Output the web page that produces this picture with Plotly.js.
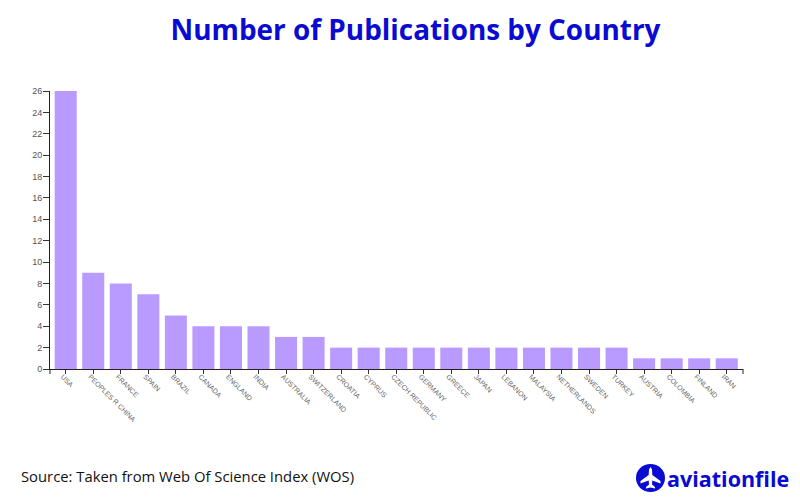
<!DOCTYPE html>
<html>
<head>
<meta charset="utf-8">
<script src="https://cdn.plot.ly/plotly-3.0.1.min.js"></script>
<style>html,body{margin:0;padding:0;background:#fff}#chart{width:800px;height:498px}</style>
</head>
<body>
<div id="chart"></div>
<script>
var countries = ["USA","PEOPLES R CHINA","FRANCE","SPAIN","BRAZIL","CANADA","ENGLAND","INDIA","AUSTRALIA","SWITZERLAND","CROATIA","CYPRUS","CZECH REPUBLIC","GERMANY","GREECE","JAPAN","LEBANON","MALAYSIA","NETHERLANDS","SWEDEN","TURKEY","AUSTRIA","COLOMBIA","FINLAND","IRAN"];
var publications = [26,9,8,7,5,4,4,4,3,3,2,2,2,2,2,2,2,2,2,2,2,1,1,1,1];
var titleText = "Number of Publications by Country";
var sourceText = "Source: Taken from Web Of Science Index (WOS)";
var logoText = "aviationfile";
var W = 800, H = 498, L = 50, R = 743, T = 91, B = 369;
function px(x){return (x-L)/(R-L);}
function py(y){return (B-y)/(B-T);}
// logo plane outline, half the icon, relative to the logo centre in pixels
var planeHalf = [[0,-11],[1.5,-8.5],[1.8,-3],[10,3],[10,5.5],[1.8,2.5],[1.5,6.5],[4.5,9],[4.5,10.5],[0,9.5]];
var planePts = planeHalf.concat(planeHalf.slice(1,-1).reverse().map(function(p){return [-p[0],p[1]];}));
var planePath = planePts.map(function(p,i){return (i?"L":"M")+px(650.5+p[0])+","+py(478+p[1]);}).join(" ")+" Z";
Plotly.newPlot("chart",[{
  type:"bar",x:countries,y:publications,
  marker:{color:"#b99bff",line:{width:0}},
  hoverinfo:"x+y"
}],{
  width:W,height:H,
  margin:{l:L,r:W-R,t:T,b:H-B,pad:0},
  paper_bgcolor:"#fff",plot_bgcolor:"#fff",
  bargap:0.2,showlegend:false,
  font:{family:"Arial, Liberation Sans, sans-serif",color:"#555"},
  title:{text:"<b>"+titleText+"</b>",font:{family:"Open Sans",size:27.9,color:"#0a0ad2"},x:415.5/W,xanchor:"center",y:1-30/H,yanchor:"middle"},
  xaxis:{type:"category",range:[-0.57,24.59],tickangle:45,tickfont:{size:7,color:"#666",family:"Arial, Liberation Sans, sans-serif"},ticks:"outside",ticklen:4,tickwidth:1,tickcolor:"#333",ticklabelstandoff:-4,ticklabelshift:-3,showline:true,linecolor:"#222",linewidth:1,showgrid:false,zeroline:false,automargin:false},
  yaxis:{range:[0,26],tick0:0,dtick:2,tickfont:{size:9,color:"#555",family:"Arial, Liberation Sans, sans-serif"},ticks:"outside",ticklen:6,tickwidth:1,tickcolor:"#333",ticklabelstandoff:-1,showline:true,linecolor:"#222",linewidth:1,showgrid:false,zeroline:false,automargin:false},
  shapes:[
    {type:"line",xref:"paper",yref:"paper",x0:1,x1:1,y0:0,y1:py(374),line:{color:"#222",width:1}},
    {type:"line",xref:"paper",yref:"paper",x0:0,x1:0,y0:0,y1:py(374),line:{color:"#222",width:1}},
    {type:"circle",xref:"paper",yref:"paper",x0:px(636),x1:px(665),y0:py(492),y1:py(464),fillcolor:"#0a0ad2",line:{width:0}},
    {type:"path",xref:"paper",yref:"paper",path:planePath,fillcolor:"#fff",line:{width:0}}
  ],
  annotations:[
    {xref:"paper",yref:"paper",x:px(19),y:py(476),xanchor:"left",yanchor:"middle",showarrow:false,text:sourceText,font:{family:"Open Sans",size:14.8,color:"#111"}},
    {xref:"paper",yref:"paper",x:px(664.5),y:py(478),xanchor:"left",yanchor:"middle",showarrow:false,text:"<b>"+logoText+"</b>",font:{family:"Open Sans",size:21.5,color:"#0a0ad2"}}
  ]
},{displayModeBar:false,responsive:false});
</script>
</body>
</html>
